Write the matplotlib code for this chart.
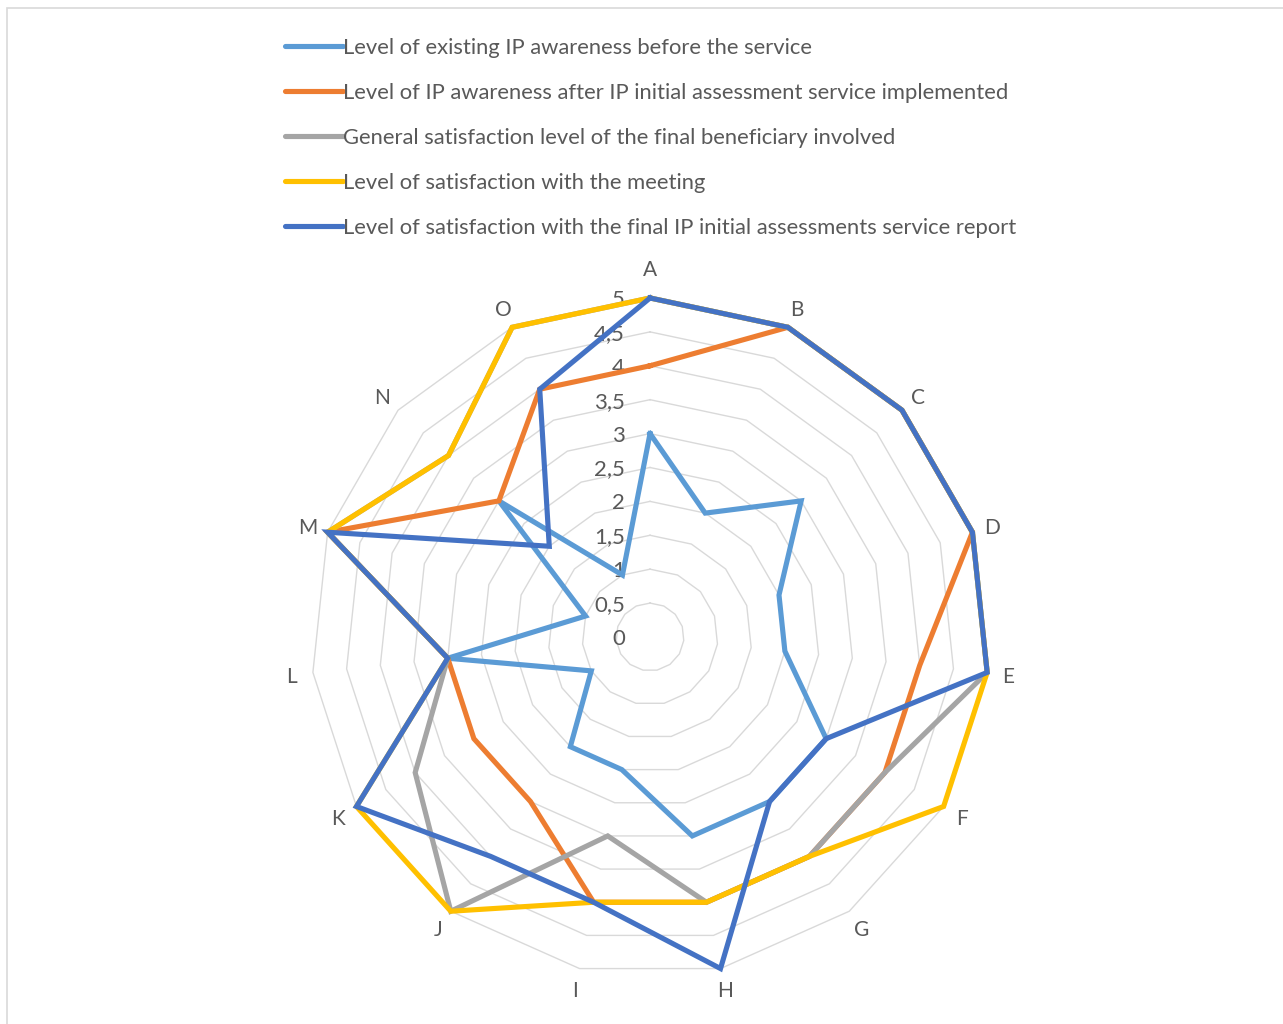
import numpy as np
import matplotlib.pyplot as plt
from matplotlib.transforms import offset_copy
from matplotlib.patches import Rectangle

plt.rcParams['font.family'] = ['Lato', 'DejaVu Sans']

# ── Dados ─────────────────────────────────────────────────────────────────────
categories = list('ABCDEFGHIJKLMNO')
series_names = [
    'Level of existing IP awareness before the service',
    'Level of IP awareness after IP initial assessment service implemented',
    'General satisfaction level of the final beneficiary involved',
    'Level of satisfaction with the meeting',
    'Level of satisfaction with the final IP initial assessments service report',
]
awareness_before = [3, 2, 3, 2, 2, 3, 3, 3, 2, 2, 1, 3, 1, 3, 1]
awareness_after = [4, 5, 5, 5, 4, 4, 4, 4, 4, 3, 3, 3, 5, 3, 4]
general_satisf = [5, 5, 5, 5, 5, 4, 4, 4, 3, 5, 4, 3, 5, 4, 5]
meeting_satisf = [5, 5, 5, 5, 5, 5, 4, 4, 4, 5, 5, 3, 5, 4, 5]
report_satisf = [5, 5, 5, 5, 5, 3, 3, 5, 4, 4, 5, 3, 5, 2, 4]
colors = ['#5B9BD5', '#ED7D31', '#A5A5A5', '#FFC000', '#4472C4']
r_levels = [0, 0.5, 1, 1.5, 2, 2.5, 3, 3.5, 4, 4.5, 5]
r_labels = ['0', '0,5', '1', '1,5', '2', '2,5', '3', '3,5', '4', '4,5', '5']

all_series = [awareness_before, awareness_after, general_satisf,
              meeting_satisf, report_satisf]

theta = np.linspace(0, 2 * np.pi, len(categories), endpoint=False)
theta_c = np.append(theta, theta[0])

# ── Figura ────────────────────────────────────────────────────────────────────
fig = plt.figure(figsize=(12.83, 10.24), dpi=100)
fig.patches.append(Rectangle((7 / 1283, -0.1), 1.2, 1.1 - 8 / 1024,
                             transform=fig.transFigure, fill=False,
                             edgecolor='#D9D9D9', lw=1.2))

ax = fig.add_axes([0.2424, 0.0469, 0.5285, 0.6621], projection='polar')
ax.set_theta_offset(np.pi / 2)
ax.set_theta_direction(-1)
ax.set_ylim(0, 5)
ax.grid(False)
ax.spines['polar'].set_visible(False)
ax.set_yticks([])
ax.set_xticks([])
ax.patch.set_alpha(0)

# anéis poligonais
for lv in r_levels[1:]:
    ax.plot(theta_c, [lv] * len(theta_c), color='#D9D9D9', lw=1.0,
            zorder=1, clip_on=False)

# rótulos radiais
tr = offset_copy(ax.transData, fig=fig, x=-25, y=-2, units='dots')
for lv, lab in zip(r_levels, r_labels):
    ax.text(0, lv, lab, transform=tr, ha='right', va='center',
            fontsize=16, color='#595959', zorder=2)

# séries
lines = []
for vals, col, name in zip(all_series, colors, series_names):
    v = list(vals) + [vals[0]]
    ln, = ax.plot(theta_c, v, color=col, lw=3.7, label=name, zorder=3,
                  clip_on=False, solid_joinstyle='miter')
    lines.append(ln)

# rótulos das categorias (o do topo fica um pouco mais afastado, como no Excel)
for th, cat in zip(theta, categories):
    r_lab = 5.44 if th == 0 else 5.31
    ax.text(th, r_lab, cat, ha='center', va='center_baseline', fontsize=15,
            color='#595959', clip_on=False)

leg = fig.legend(handles=lines, loc='upper left',
                 bbox_to_anchor=(285 / 1283, 1 - 38 / 1024), frameon=False,
                 fontsize=15.8, handlelength=2.64, handletextpad=0.0,
                 labelspacing=1.14, borderpad=0, borderaxespad=0)
for t in leg.get_texts():
    t.set_color('#595959')
for h in leg.legend_handles:
    h.set_solid_capstyle('round')

fig.savefig('out.png', dpi=100)
